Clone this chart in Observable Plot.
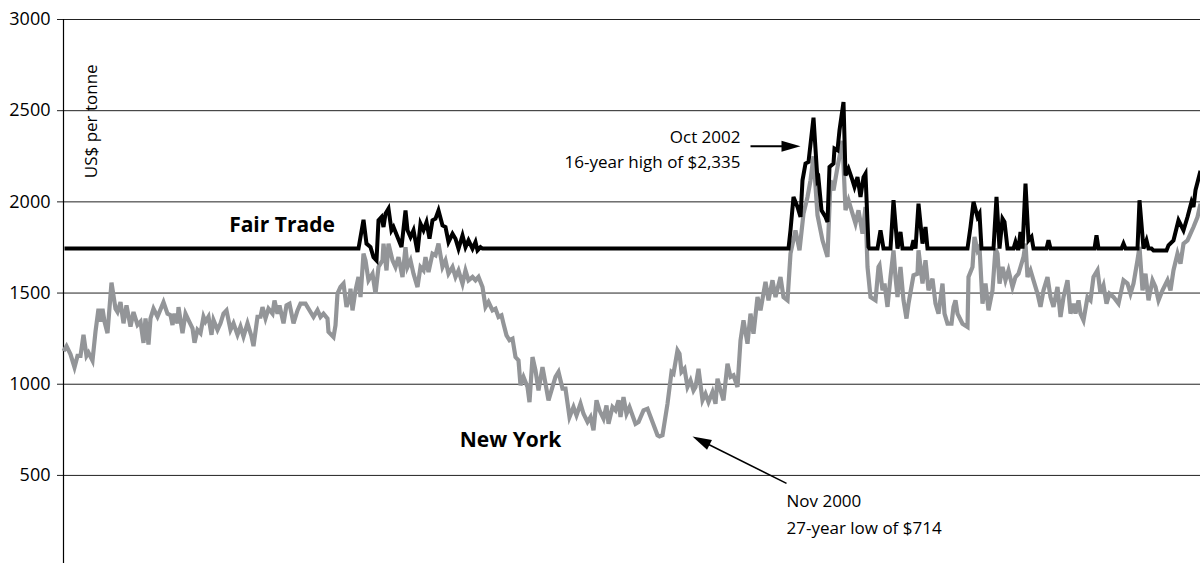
<!DOCTYPE html>
<html>
<head>
<meta charset="utf-8">
<script src="https://cdn.jsdelivr.net/npm/d3@7"></script>
<script src="https://cdn.jsdelivr.net/npm/@observablehq/plot@0.6"></script>
<style>
html, body { margin: 0; padding: 0; background: #fff; overflow: hidden; }
</style>
</head>
<body>
<div id="chart"></div>
<script>
// [time index, US$ per tonne]
const newYork = [[0,1182],[3,1209],[7,1164],[11,1093],[14,1155],[17,1155],[20,1271],[23,1155],[25,1173],[29,1129],[32,1289],[35,1414],[37,1343],[39,1414],[41,1343],[44,1280],[48,1557],[52,1414],[54,1396],[57,1450],[60,1334],[63,1432],[67,1316],[70,1396],[74,1325],[77,1343],[80,1227],[82,1361],[85,1218],[87,1361],[90,1414],[94,1370],[100,1450],[104,1387],[107,1379],[109,1325],[111,1387],[114,1334],[115,1423],[119,1280],[122,1387],[125,1352],[129,1307],[131,1227],[134,1298],[137,1280],[140,1370],[142,1343],[145,1370],[148,1271],[150,1352],[154,1298],[157,1334],[160,1387],[163,1405],[167,1298],[170,1334],[174,1271],[177,1316],[180,1262],[184,1334],[188,1262],[190,1209],[194,1370],[197,1370],[199,1423],[202,1361],[205,1414],[209,1387],[211,1459],[214,1387],[216,1432],[220,1334],[223,1432],[226,1441],[230,1334],[234,1405],[237,1442],[242,1442],[247,1396],[250,1369],[254,1406],[257,1369],[260,1387],[264,1360],[265,1287],[270,1259],[272,1323],[274,1497],[277,1534],[280,1552],[283,1424],[286,1470],[287,1524],[289,1405],[292,1515],[295,1588],[297,1478],[300,1716],[302,1679],[305,1570],[309,1606],[312,1496],[315,1643],[319,1679],[320,1771],[323,1624],[325,1771],[329,1679],[332,1643],[335,1697],[339,1588],[342,1752],[344,1643],[347,1679],[350,1606],[354,1533],[357,1643],[360,1624],[362,1697],[365,1615],[369,1716],[372,1707],[375,1771],[379,1643],[382,1679],[385,1606],[389,1643],[392,1588],[395,1624],[399,1551],[402,1624],[405,1570],[409,1588],[412,1570],[415,1588],[419,1533],[420,1497],[422,1424],[425,1451],[429,1405],[432,1414],[435,1369],[438,1378],[440,1332],[443,1268],[446,1241],[449,1250],[452,1149],[455,1131],[457,994],[460,1040],[464,985],[466,902],[469,1149],[472,1076],[475,966],[479,1094],[482,1003],[485,912],[489,985],[492,1040],[495,1067],[499,976],[502,976],[506,820],[510,875],[513,829],[517,893],[520,838],[524,793],[527,820],[530,747],[533,912],[536,857],[540,811],[543,884],[545,783],[549,875],[552,857],[555,912],[557,820],[560,930],[563,838],[566,875],[572,783],[575,793],[580,857],[584,866],[589,793],[594,720],[596,714],[599,720],[604,893],[608,1067],[610,1058],[614,1186],[616,1168],[618,1067],[621,1085],[624,985],[627,1021],[630,966],[632,985],[635,1085],[639,912],[642,948],[645,902],[649,957],[652,893],[654,1030],[657,966],[660,912],[664,1113],[667,1040],[670,1049],[674,985],[677,1240],[680,1350],[684,1222],[687,1387],[690,1277],[694,1478],[697,1405],[702,1561],[705,1460],[709,1570],[712,1478],[717,1588],[720,1478],[724,1460],[727,1716],[732,1844],[736,1734],[740,1936],[744,2027],[747,2118],[750,2250],[754,1927],[759,1789],[764,1698],[767,2118],[770,2063],[774,2191],[779,2335],[782,1954],[785,2009],[789,1936],[792,1881],[795,1954],[799,1826],[802,1972],[804,1643],[807,1478],[812,1460],[815,1643],[816,1652],[819,1515],[821,1552],[824,1424],[827,1588],[830,1734],[832,1588],[834,1478],[837,1643],[840,1460],[843,1360],[845,1442],[850,1597],[854,1606],[855,1734],[859,1552],[862,1680],[865,1515],[869,1579],[872,1442],[875,1387],[879,1552],[881,1387],[884,1332],[888,1332],[890,1424],[892,1460],[894,1387],[899,1332],[904,1314],[905,1588],[909,1643],[911,1808],[914,1734],[916,1753],[919,1442],[922,1552],[925,1405],[929,1515],[932,1744],[934,1716],[936,1552],[939,1643],[942,1570],[945,1625],[949,1533],[952,1588],[955,1606],[957,1643],[960,1698],[962,1771],[964,1588],[967,1625],[970,1570],[974,1497],[977,1424],[980,1515],[984,1588],[987,1478],[990,1424],[994,1533],[997,1369],[1000,1478],[1004,1570],[1007,1387],[1010,1442],[1012,1387],[1015,1460],[1017,1387],[1020,1350],[1024,1478],[1027,1460],[1030,1588],[1034,1625],[1037,1497],[1040,1542],[1043,1442],[1046,1497],[1050,1478],[1055,1442],[1060,1570],[1064,1552],[1067,1497],[1070,1552],[1074,1680],[1076,1753],[1079,1515],[1082,1606],[1085,1460],[1089,1570],[1092,1533],[1095,1460],[1099,1515],[1104,1570],[1107,1515],[1110,1625],[1114,1716],[1117,1661],[1120,1771],[1124,1789],[1127,1826],[1130,1862],[1134,1917],[1137,1990]];

const fairTrade = [[1,1744],[295,1744],[300,1902],[303,1771],[307,1752],[310,1697],[313,1679],[315,1899],[318,1917],[320,1862],[322,1935],[325,1963],[328,1844],[330,1862],[334,1807],[338,1752],[342,1953],[344,1844],[347,1807],[350,1844],[354,1725],[357,1880],[360,1844],[363,1889],[366,1798],[369,1899],[372,1908],[375,1953],[379,1871],[382,1862],[385,1780],[389,1825],[392,1798],[395,1743],[399,1816],[402,1752],[405,1789],[409,1743],[412,1780],[414,1734],[417,1752],[419,1744],[725,1744],[727,1844],[730,2027],[734,1972],[737,1917],[739,2118],[742,2210],[745,2219],[750,2462],[754,2118],[755,2127],[758,1954],[762,1917],[764,1890],[766,2191],[770,2210],[771,2292],[774,2283],[776,2393],[780,2548],[782,2145],[785,2182],[789,2118],[791,2082],[794,2136],[797,2027],[800,2136],[802,2155],[805,1753],[806,1744],[814,1744],[817,1844],[820,1744],[827,1744],[830,2009],[834,1744],[837,1835],[839,1744],[848,1744],[850,1789],[852,1744],[855,1990],[859,1771],[862,1862],[864,1744],[904,1744],[907,1862],[910,2000],[914,1917],[916,1936],[918,1744],[930,1744],[933,2027],[936,1744],[939,1908],[941,1890],[944,1744],[950,1744],[952,1780],[954,1744],[955,1744],[957,1835],[959,1744],[962,2100],[965,1789],[968,1808],[970,1744],[983,1744],[985,1789],[987,1744],[1031,1744],[1033,1817],[1035,1744],[1058,1744],[1060,1771],[1062,1744],[1074,1744],[1076,2009],[1080,1744],[1083,1789],[1085,1744],[1088,1744],[1090,1734],[1103,1734],[1105,1762],[1110,1789],[1115,1899],[1120,1844],[1124,1917],[1128,2000],[1130,1972],[1132,2064],[1137,2170]];

const yTicks = [500, 1000, 1500, 2000, 2500, 3000];
const unitLabel = [{text: "US$ per tonne", t: 28.5, price: 2442}];
const seriesLabels = [
  {label: "Fair Trade", t: 218.5, price: 1872},
  {label: "New York", t: 447, price: 692}
];
const notesEnd = [
  {text: "Oct 2002", t: 677, price: 2351},
  {text: "16-year high of $2,335", t: 677, price: 2214}
];
const notesStart = [
  {text: "Nov 2000", t: 723, price: 354},
  {text: "27-year low of $714", t: 723, price: 211}
];
const arrows = [
  {t1: 687, p1: 2305, t2: 737, p2: 2305, width: 2},
  {t1: 723, p1: 456, t2: 629, p2: 714, width: 1.5}
];

const width = 1200, height = 563;
const marginLeft = 63, marginTop = 19, marginRight = 0, marginBottom = 0;
const xDomain = [0, 1137], yDomain = [17, 3000];
const kx = (width - marginLeft - marginRight) / (xDomain[1] - xDomain[0]);
const ky = (height - marginTop - marginBottom) / (yDomain[1] - yDomain[0]);
const headLen = 19, headR = 5.5;

const arrowGeo = arrows.map(a => {
  const dx = (a.t2 - a.t1) * kx, dy = -(a.p2 - a.p1) * ky;
  const len = Math.hypot(dx, dy);
  const ux = dx / len, uy = dy / len;
  const back = headLen * 0.6;
  return {...a,
    rotate: Math.atan2(dx, -dy) * 180 / Math.PI,
    te: a.t2 - ux * back / kx,
    pe: a.p2 + uy * back / ky};
});

const headShape = {
  draw(ctx, l, r) {
    ctx.moveTo(-r, 0);
    ctx.lineTo(0, -l);
    ctx.lineTo(r, 0);
    ctx.closePath();
  }
};

const chart = Plot.plot({
  width, height, marginLeft, marginTop, marginRight, marginBottom,
  style: {fontFamily: "'Open Sans', sans-serif", fontSize: "18px", color: "#000", background: "#fff", overflow: "visible"},
  x: {domain: xDomain, axis: null},
  y: {domain: yDomain, axis: null},
  marks: [
    Plot.ruleY(yTicks, {stroke: "#222", strokeWidth: 1}),
    Plot.axisY(yTicks, {tickSize: 6, tickPadding: 7, tickFormat: "d", label: null, fontSize: 18, stroke: "#222"}),
    Plot.ruleX([0], {stroke: "#000", strokeWidth: 1.2}),
    Plot.line(newYork, {x: d => d[0], y: d => d[1], stroke: "#939598", strokeWidth: 4.2, strokeLinejoin: "miter", strokeMiterlimit: 4, strokeLinecap: "butt"}),
    Plot.line(fairTrade, {x: d => d[0], y: d => d[1], stroke: "#000", strokeWidth: 4, strokeLinejoin: "miter", strokeMiterlimit: 4, strokeLinecap: "butt"}),
    Plot.text(unitLabel, {x: "t", y: "price", text: "text", rotate: -90, fontSize: 17, fill: "#000"}),
    Plot.text(seriesLabels, {x: "t", y: "price", text: "label", fontSize: 21, fontWeight: "bold", fill: "#000", textAnchor: "middle"}),
    Plot.text(notesEnd, {x: "t", y: "price", text: "text", fontSize: 17, fill: "#000", textAnchor: "end"}),
    Plot.text(notesStart, {x: "t", y: "price", text: "text", fontSize: 17, fill: "#000", textAnchor: "start"}),
    Plot.link(arrowGeo, {x1: "t1", y1: "p1", x2: "te", y2: "pe", stroke: "#000", strokeWidth: "width"}),
    Plot.vector(arrowGeo, {x: "t2", y: "p2", rotate: "rotate", length: headLen, r: headR, anchor: "end", shape: headShape, fill: "#000", stroke: "none"})
  ]
});
document.getElementById("chart").appendChild(chart);
</script>
</body>
</html>
